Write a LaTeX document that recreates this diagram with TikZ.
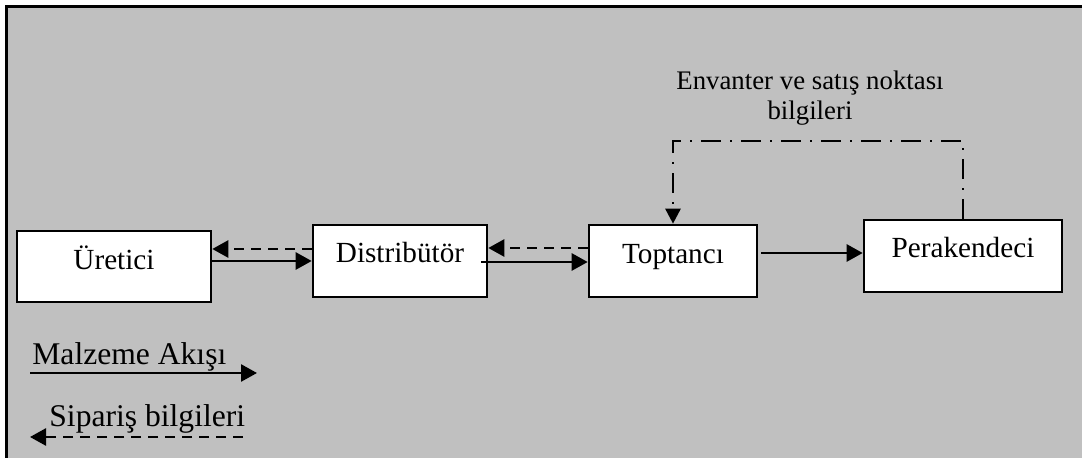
\documentclass[tikz,border=0pt]{standalone}
\usepackage{fontspec}
\setmainfont{Liberation Serif}
\usetikzlibrary{arrows.meta}
\begin{document}
\begin{tikzpicture}[x=0.5pt,y=-0.5pt,
  box/.style={draw=black,fill=white,line width=1.3pt,inner sep=0pt},
  lbl/.style={anchor=base,inner sep=0pt,font=\fontsize{14.6}{17}\selectfont},
  flow/.style={line width=1.3pt,-{Triangle[length=8pt,width=8.5pt]}},
  info/.style={line width=1.3pt,dash pattern=on 5pt off 3.5pt,-{Triangle[length=8pt,width=8.5pt]}},
  dashdotline/.style={line width=1.3pt,dash pattern=on 10pt off 4.5pt on 1pt off 4.5pt}]
\useasboundingbox (0,0) rectangle (1082,458);
\clip (0,0) rectangle (1082,458);
\fill[white] (0,0) rectangle (1082,458);
\draw[fill={rgb,255:red,192;green,192;blue,192},line width=1.6pt] (6.5,6.5) rectangle (1100,480);
% boxes
\node[box,minimum width=97pt,minimum height=35.5pt] (u) at (114,266.5) {};
\node[box,minimum width=87pt,minimum height=36pt] (d) at (400,261) {};
\node[box,minimum width=84pt,minimum height=36pt] (t) at (673,261) {};
\node[box,minimum width=99pt,minimum height=36pt] (p) at (963,256) {};
\node[lbl] (ut) at (114,270) {Üretici};
\node[lbl] (dt) at (400,263) {Distribütör};
\node[lbl] (tt) at (673,264) {Toptancı};
\node[lbl] (pt) at (963,258) {Perakendeci};
% top label
\node[anchor=base,inner sep=0pt,font=\fontsize{13.4}{16}\selectfont] (e1) at (810,90) {Envanter ve satış noktası};
\node[anchor=base,inner sep=0pt,font=\fontsize{13.4}{16}\selectfont] (e2) at (810,120) {bilgileri};
% connectors
\draw[flow] (u.east |- 0,261) -- (d.west |- 0,261);
\draw[info] (d.west |- 0,249) -- (u.east |- 0,249);
\draw[flow,shorten <=-3.5pt] (d.east |- 0,262) -- (t.west |- 0,262);
\draw[info] (t.west |- 0,248) -- (d.east |- 0,248);
\draw[flow,shorten <=1.5pt] (t.east |- 0,253) -- (p.west |- 0,253);
\draw[dashdotline,-{Triangle[length=7.5pt,width=7.5pt]}] (p.north) -- (p.north |- 0,141) -- (t.north |- 0,141) -- (t.north);
% legend
\node[anchor=base west,inner sep=0pt,font=\fontsize{15.8}{19}\selectfont] (ml) at (32,365) {Malzeme Akışı};
\node[anchor=base west,inner sep=0pt,font=\fontsize{15.8}{19}\selectfont] (sl) at (49,427) {Sipariş bilgileri};
\coordinate (m1) at (30,373);
\coordinate (m2) at (257,373);
\coordinate (s1) at (243,437);
\coordinate (s2) at (30,437);
\draw[flow] (m1) -- (m2);
\draw[info] (s1) -- (s2);
\end{tikzpicture}
\end{document}
